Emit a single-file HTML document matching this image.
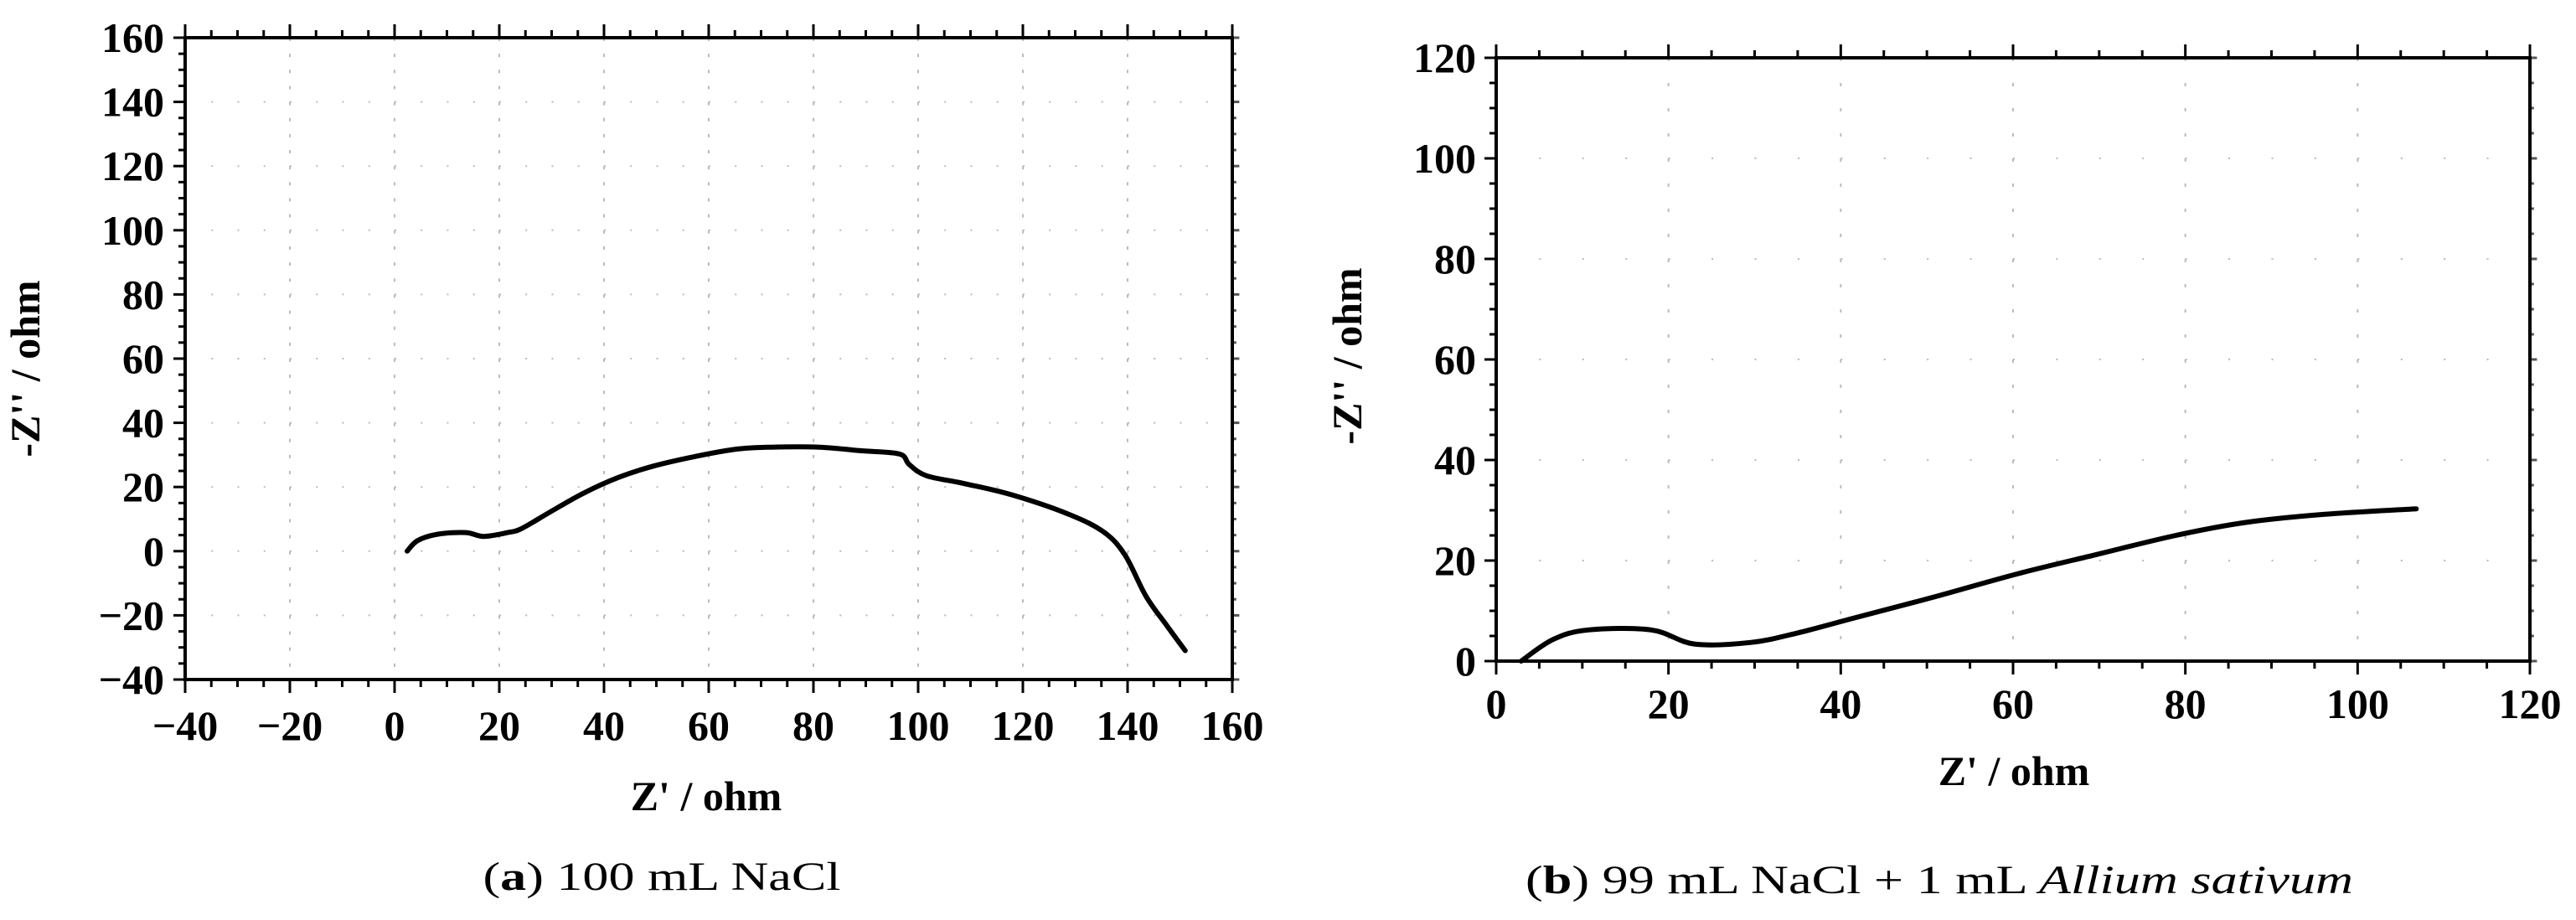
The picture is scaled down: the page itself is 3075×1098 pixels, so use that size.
<!DOCTYPE html>
<html><head><meta charset="utf-8"><style>
html,body{margin:0;padding:0;background:#fff;}
svg{display:block;font-family:"Liberation Serif","Times New Roman",serif;}
text{font-family:"Liberation Serif","Times New Roman",serif;fill:#000;}
.tick{font-weight:bold;font-size:50px;}
.title{font-weight:bold;font-size:50px;}
.cap{font-size:48px;}
</style></head><body>
<svg id="svg" width="3075" height="1098" viewBox="0 0 3075 1098" xmlns="http://www.w3.org/2000/svg" font-family="Liberation Serif, serif">
<g id="chartA"></g>
<g id="chartB"></g>
<text class="cap" font-family="Liberation Serif, serif" x="790" y="1062" text-anchor="middle" textLength="427" lengthAdjust="spacingAndGlyphs">(<tspan font-weight="bold">a</tspan>) 100 mL NaCl</text>
<text class="cap" font-family="Liberation Serif, serif" x="2315" y="1066" text-anchor="middle" textLength="988" lengthAdjust="spacingAndGlyphs">(<tspan font-weight="bold">b</tspan>) 99 mL NaCl + 1 mL <tspan font-style="italic">Allium sativum</tspan></text>
</svg>
<script>
const xA = [2.4,4.4,8.3,13.6,17,21.6,24.2,29.5,36,42.8,49.4,57.4,65.3,71.9,81.2,89,96.4,98.3,101.6,109,118,128.9,135.5,139.5,143.5,147.4,151];
const yA = [0,3.3,5.3,5.8,4.6,5.8,7,12,18,23,26.5,29.5,31.8,32.4,32.4,31.3,30.3,27,23.5,21,17.5,11.4,5.9,-1.2,-14,-23,-31];
const ticksAx = [-40,-20,0,20,40,60,80,100,120,140,160];
const ticksAy = [-40,-20,0,20,40,60,80,100,120,140,160];
const xB = [2.9,6.6,10.7,18,23,29.5,35,41.4,50.5,60.6,69.7,78.9,87.1,96.2,106.8];
const yB = [0,4.3,6.2,6.2,3.4,3.7,5.6,8.5,12.6,17.4,21.2,25,27.6,29.2,30.3];
const ticksBx = [0,20,40,60,80,100,120];
const ticksBy = [0,20,40,60,80,100,120];

const NS="http://www.w3.org/2000/svg";
function mk(parent,tag,attrs,txt){const e=document.createElementNS(NS,tag);for(const k in attrs)e.setAttribute(k,attrs[k]);if(txt!==undefined)e.textContent=txt;parent.appendChild(e);return e;}

function smooth(pts){
  let d='M'+pts[0][0].toFixed(1)+','+pts[0][1].toFixed(1);
  for(let i=0;i<pts.length-1;i++){
    const p0=pts[Math.max(0,i-1)],p1=pts[i],p2=pts[i+1],p3=pts[Math.min(pts.length-1,i+2)];
    const c1=[p1[0]+(p2[0]-p0[0])/6,p1[1]+(p2[1]-p0[1])/6];
    const c2=[p2[0]-(p3[0]-p1[0])/6,p2[1]-(p3[1]-p1[1])/6];
    d+=` C${c1[0].toFixed(1)},${c1[1].toFixed(1)} ${c2[0].toFixed(1)},${c2[1].toFixed(1)} ${p2[0].toFixed(1)},${p2[1].toFixed(1)}`;
  }
  return d;
}

function chart(g,cfg){
  const {x0,x1,y0,y1,xt,yt,xs,ys,lblRight,xLblY,xTitleX,xTitleY,yTitleX,yTitleY,tag}=cfg;
  const xmin=xt[0],xmax=xt[xt.length-1],ymin=yt[0],ymax=yt[yt.length-1];
  const sx=v=>x0+(v-xmin)/(xmax-xmin)*(x1-x0);
  const sy=v=>y1-(v-ymin)/(ymax-ymin)*(y1-y0);
  const minorX=(xt[1]-xt[0])/4, minorY=(yt[1]-yt[0])/4;
  for(let i=1;i<xt.length-1;i++){
    const l=mk(g,'line',{x1:sx(xt[i]),x2:sx(xt[i]),y1:y0,y2:y1,stroke:'#bbb','stroke-width':2,'stroke-dasharray':'4 '+((y1-y0)/(yt.length-1)/4-4)});
    
    
  }
  for(let i=1;i<yt.length-1;i++){
    const l=mk(g,'line',{x1:x0,x2:x1,y1:sy(yt[i]),y2:sy(yt[i]),stroke:'#bbb','stroke-width':2,'stroke-dasharray':'2 '+((x1-x0)/(xt.length-1)/4-2)});
    
    
  }
  for(let v=xmin;v<=xmax+1e-9;v+=minorX){
    const major=Math.abs(((v-xmin)/(xt[1]-xt[0]))-Math.round((v-xmin)/(xt[1]-xt[0])))<1e-6;
    const len=major?16:9;
    const t1=mk(g,'line',{x1:sx(v),x2:sx(v),y1:y1,y2:y1+len,stroke:'#000','stroke-width':3});
    
    
    const t2=mk(g,'line',{x1:sx(v),x2:sx(v),y1:y0,y2:y0-len,stroke:'#000','stroke-width':3});
    
    
  }
  for(let v=ymin;v<=ymax+1e-9;v+=minorY){
    const major=Math.abs(((v-ymin)/(yt[1]-yt[0]))-Math.round((v-ymin)/(yt[1]-yt[0])))<1e-6;
    const len=major?14:8;
    const t1=mk(g,'line',{x1:x0,x2:x0-len,y1:sy(v),y2:sy(v),stroke:'#000','stroke-width':3});
    
    
    const t2=mk(g,'line',{x1:x1,x2:x1+len*0.6,y1:sy(v),y2:sy(v),stroke:'#555','stroke-width':3});
    
    
  }
  const fr=mk(g,'rect',{x:x0,y:y0,width:x1-x0,height:y1-y0,fill:'none',stroke:'#000','stroke-width':4});
  
  
  xt.forEach(v=>{
    const t=mk(g,'text',{class:'tick','font-family':'Liberation Serif, serif',x:sx(v),y:xLblY,'text-anchor':'middle'},v<0?'\u2212'+Math.abs(v):String(v));
    
    
  });
  yt.forEach(v=>{
    const t=mk(g,'text',{class:'tick','font-family':'Liberation Serif, serif',x:lblRight,y:sy(v)+17,'text-anchor':'end'},v<0?'\u2212'+Math.abs(v):String(v));
    
    
  });
  const xtit=mk(g,'text',{class:'title','font-family':'Liberation Serif, serif',x:xTitleX,y:xTitleY,'text-anchor':'middle'},"Z' / ohm");
  
  
  const ytit=mk(g,'text',{class:'title','font-family':'Liberation Serif, serif',x:0,y:0,'text-anchor':'middle',transform:`translate(${yTitleX},${yTitleY}) rotate(-90)`},"-Z'' / ohm");
  
  
  const pts=xs.map((v,i)=>[sx(v),sy(ys[i])]);
  const p=mk(g,'path',{d:smooth(pts),fill:'none',stroke:'#000','stroke-width':6,'stroke-linejoin':'round','stroke-linecap':'round'});
  
  
}
chart(document.getElementById('chartA'),{x0:221,x1:1471,y0:45,y1:811,xt:ticksAx,yt:ticksAy,xs:xA,ys:yA,lblRight:196,xLblY:883,xTitleX:843,xTitleY:967,yTitleX:47,yTitleY:440,tag:'a'});
chart(document.getElementById('chartB'),{x0:1786,x1:3020,y0:69,y1:789,xt:ticksBx,yt:ticksBy,xs:xB,ys:yB,lblRight:1762,xLblY:857,xTitleX:2404,xTitleY:937,yTitleX:1625,yTitleY:425,tag:'b'});
</script>
</body></html>
